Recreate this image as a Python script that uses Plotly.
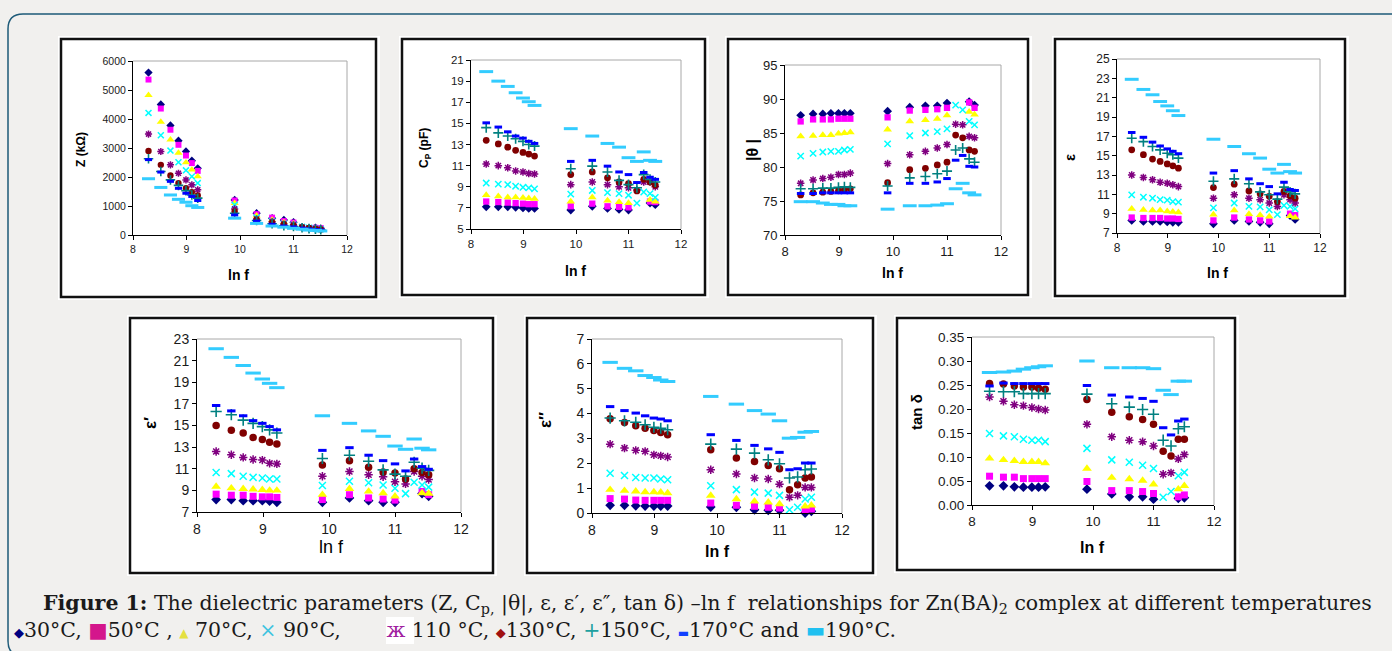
import plotly.graph_objects as go

W, H = 1392, 651

# ---------------- data ----------------
lnf = [8.29, 8.52, 8.70, 8.85, 8.99, 9.10, 9.21, 9.90, 10.31, 10.60, 10.82, 11.00, 11.16, 11.29, 11.41, 11.51]
temps = ["30°C", "50°C", "70°C", "90°C", "110°C", "130°C", "150°C", "170°C", "190°C"]

Z_kohm = [
    [5600, 4500, 3780, 3250, 2880, 2560, 2300, 1210, 750, 580, 520, 440, None, None, 250, 230],
    [5360, 4360, 3630, 3110, 2740, 2480, 2210, 1190, 720, 600, 480, 430, None, None, 250, 240],
    [4820, 3900, 3290, 2830, 2500, 2250, 2020, 1100, 670, 520, 440, 390, None, None, 230, 210],
    [4210, 3440, 2910, 2510, 2230, 2020, 1790, 1040, 600, 470, 390, 350, 280, 250, 220, 200],
    [3480, 2880, 2420, 2130, 1900, 1730, 1560, 900, 550, 460, 380, 350, 270, 240, 220, 200],
    [2900, 2420, 2050, 1790, 1610, 1480, 1360, 810, 530, 430, 370, 320, 270, 240, 210, 190],
    [2630, 2190, 1900, 1710, 1530, 1380, 1270, 750, 500, 390, 320, 290, 250, 220, 200, 180],
    [2600, 2170, 1850, 1610, 1440, 1330, 1190, 690, 480, 370, 310, 280, 240, 210, 190, 170],
    [1940, 1640, 1380, 1230, 1130, 1010, 950, 580, 400, 310, 270, 230, 200, 170, 160, 140],
]
Cp_pF = [
    [7.1, 7.1, 7.1, 7.05, 7.0, 6.95, 6.95, 6.8, 7.15, 6.95, 6.85, 6.8, None, None, 7.45, 7.3],
    [7.6, 7.55, 7.5, 7.45, 7.4, 7.35, 7.35, 7.15, 7.4, 7.15, 7.1, 7.05, None, None, 7.6, 7.55],
    [8.2, 8.1, 8.0, 8.0, 7.95, 7.9, 7.85, 7.6, 8.0, 7.7, 7.55, 7.45, None, None, 7.75, 7.6],
    [9.35, 9.25, 9.2, 9.05, 8.95, 8.9, 8.8, 8.3, 8.65, 8.45, 8.35, 8.2, 7.45, 8.5, 8.35, 8.0],
    [11.15, 11.0, 10.8, 10.5, 10.4, 10.25, 10.2, 9.2, 9.45, 9.2, 9.0, 8.9, 8.7, 9.45, 9.45, 9.0],
    [13.4, 13.05, 12.75, 12.45, 12.25, 12.1, 11.9, 10.15, 10.4, 9.85, 9.45, 9.3, 8.6, 9.7, 9.45, 9.15],
    [14.6, 14.1, 13.8, 13.55, 13.3, 13.0, 12.85, 10.7, 10.95, 10.4, 9.6, 9.2, 8.9, 10.15, 9.7, 9.45],
    [15.05, 14.65, 14.2, 13.8, 13.6, 13.3, 13.1, 11.4, 11.5, 10.95, 10.4, 10.15, 9.4, 10.35, 9.9, 9.7],
    [19.9, 19.0, 18.5, 17.9, 17.4, 17.05, 16.7, 14.5, 13.8, 13.1, 12.75, 11.75, 11.4, 12.3, 11.5, 11.4],
]
theta_deg = [
    [87.6, 87.8, 87.8, 87.9, 87.9, 87.9, 87.9, 88.2, 88.8, 89.0, 89.0, 89.4, None, None, 89.6, 89.1],
    [86.7, 87.0, 87.0, 87.0, 87.1, 87.1, 87.1, 87.3, 88.3, 88.4, 88.5, 88.7, None, None, 89.5, 88.7],
    [84.5, 84.6, 84.7, 84.7, 84.9, 85.0, 85.1, 85.5, 86.7, 86.9, 87.1, 87.6, None, None, 88.1, 87.7],
    [81.6, 82.0, 82.2, 82.3, 82.3, 82.5, 82.6, 83.4, 84.6, 85.0, 85.2, 85.6, 89.1, 88.4, 86.7, 86.2],
    [77.6, 78.1, 78.3, 78.5, 78.9, 78.9, 79.1, 80.5, 81.8, 82.3, 82.8, 83.3, 86.3, 86.2, 84.5, 84.3],
    [75.9, 76.2, 76.3, 76.4, 76.5, 76.7, 76.8, 77.7, 79.6, 79.8, 80.3, 80.7, 84.7, 84.3, 82.5, 82.3],
    [76.8, 76.8, 76.9, 76.9, 77.0, 77.1, 77.0, 77.2, 78.4, 78.6, 79.0, 79.4, 82.5, 82.8, 81.2, 80.7],
    [76.1, 76.1, 76.2, 76.2, 76.2, 76.2, 76.2, 76.2, 77.6, 77.6, 77.8, 78.3, 81.0, 81.7, 80.1, 80.0],
    [74.9, 74.9, 74.7, 74.5, 74.5, 74.3, 74.3, 73.8, 74.3, 74.3, 74.4, 74.6, 76.8, 77.6, 76.2, 75.9],
]
eps = [
    [8.3, 8.2, 8.2, 8.2, 8.15, 8.1, 8.1, 7.95, 8.3, 8.2, 8.1, 7.95, None, None, 8.8, 8.4],
    [8.6, 8.55, 8.55, 8.55, 8.5, 8.5, 8.45, 8.3, 8.6, 8.4, 8.3, 8.2, None, None, 9.0, 8.85],
    [9.5, 9.4, 9.35, 9.35, 9.25, 9.2, 9.15, 8.9, 9.35, 8.95, 8.85, 8.7, None, None, 8.75, 8.6],
    [10.95, 10.7, 10.6, 10.45, 10.4, 10.25, 10.2, 9.6, 10.1, 9.75, 9.7, 9.4, 8.9, 9.85, 9.75, 9.5],
    [13.0, 12.75, 12.5, 12.25, 12.15, 12.0, 11.8, 10.6, 10.95, 10.6, 10.45, 10.1, 9.75, 10.95, 10.45, 10.1],
    [15.6, 15.1, 14.65, 14.4, 14.15, 13.95, 13.7, 11.7, 12.05, 11.35, 11.05, 10.8, 10.25, 11.3, 10.85, 10.6],
    [16.8, 16.45, 15.95, 15.6, 15.25, 15.1, 14.75, 12.35, 12.6, 12.1, 11.25, 10.95, 10.5, 11.75, 11.25, 11.05],
    [17.4, 16.9, 16.4, 16.0, 15.7, 15.45, 15.2, 13.2, 13.45, 12.6, 12.1, 11.8, 11.05, 12.25, 11.5, 11.4],
    [22.9, 21.85, 21.3, 20.6, 20.15, 19.65, 19.15, 16.7, 15.95, 15.2, 14.75, 13.6, 13.2, 14.1, 13.35, 13.2],
]
eps_real = [
    [8.15, 8.15, 8.05, 8.05, 8.05, 8.0, 7.9, 7.9, 8.3, 8.05, 7.9, 7.9, None, None, 8.7, 8.45],
    [8.65, 8.55, 8.55, 8.45, 8.4, 8.4, 8.35, 8.15, 8.6, 8.3, 8.2, 8.1, None, None, 8.9, 8.6],
    [9.35, 9.2, 9.15, 9.1, 9.05, 9.0, 9.0, 8.6, 9.15, 8.9, 8.75, 8.45, None, None, 8.75, 8.7],
    [10.65, 10.55, 10.3, 10.2, 10.15, 10.05, 10.05, 9.45, 9.85, 9.7, 9.5, 9.2, 8.7, 9.75, 9.5, 9.3],
    [12.6, 12.3, 12.05, 11.85, 11.8, 11.5, 11.45, 10.3, 10.75, 10.45, 10.25, 9.8, 9.6, 10.75, 10.3, 10.0],
    [15.0, 14.55, 14.3, 13.9, 13.7, 13.45, 13.3, 11.35, 11.75, 11.15, 10.7, 10.6, 10.05, 11.0, 10.65, 10.45],
    [16.3, 16.0, 15.5, 15.2, 14.9, 14.6, 14.3, 11.95, 12.25, 11.7, 10.9, 10.5, 10.3, 11.6, 11.05, 10.85],
    [16.85, 16.35, 15.9, 15.45, 15.2, 14.9, 14.6, 12.7, 12.95, 12.25, 11.75, 11.45, 10.8, 11.9, 11.2, 10.95],
    [22.1, 21.3, 20.55, 19.85, 19.3, 18.9, 18.5, 15.9, 15.2, 14.5, 14.0, 13.1, 12.8, 13.75, 12.9, 12.75],
]
eps_imag = [
    [0.31, 0.31, 0.29, 0.28, 0.28, 0.28, 0.28, 0.24, 0.23, 0.13, 0.11, 0.11, None, None, 0.0, 0.07],
    [0.58, 0.56, 0.52, 0.51, 0.51, 0.51, 0.51, 0.40, 0.31, 0.27, 0.23, 0.20, None, None, 0.13, 0.16],
    [0.94, 0.90, 0.87, 0.84, 0.84, 0.83, 0.80, 0.70, 0.56, 0.47, 0.43, 0.36, None, None, 0.27, 0.31],
    [1.60, 1.51, 1.43, 1.41, 1.41, 1.37, 1.34, 1.10, 0.94, 0.84, 0.80, 0.71, 0.13, 0.23, 0.56, 0.63],
    [2.77, 2.61, 2.52, 2.48, 2.34, 2.30, 2.25, 1.74, 1.57, 1.41, 1.37, 1.16, 0.63, 0.71, 1.03, 1.03],
    [3.79, 3.64, 3.51, 3.41, 3.32, 3.24, 3.15, 2.54, 2.21, 2.07, 1.91, 1.78, 0.94, 1.14, 1.41, 1.45],
    [3.82, 3.71, 3.65, 3.55, 3.45, 3.41, 3.35, 2.77, 2.57, 2.41, 2.14, 1.98, 1.41, 1.45, 1.74, 1.77],
    [4.28, 4.12, 4.02, 3.91, 3.82, 3.78, 3.71, 3.15, 2.92, 2.72, 2.58, 2.44, 1.74, 1.78, 2.01, 2.01],
    [6.06, 5.82, 5.72, 5.53, 5.45, 5.35, 5.29, 4.69, 4.38, 4.12, 3.98, 3.71, 3.01, 3.04, 3.25, 3.28],
]
tan_delta = [
    [0.040, 0.040, 0.038, 0.037, 0.037, 0.037, 0.038, 0.033, 0.023, 0.017, 0.017, 0.012, None, None, 0.014, 0.015],
    [0.060, 0.058, 0.058, 0.055, 0.055, 0.055, 0.055, 0.049, 0.030, 0.030, 0.028, 0.024, None, None, 0.017, 0.021],
    [0.097, 0.094, 0.092, 0.090, 0.090, 0.090, 0.087, 0.076, 0.057, 0.054, 0.051, 0.043, None, None, 0.033, 0.040],
    [0.149, 0.144, 0.142, 0.137, 0.135, 0.135, 0.132, 0.118, 0.094, 0.089, 0.083, 0.076, 0.016, 0.028, 0.061, 0.068],
    [0.225, 0.216, 0.209, 0.207, 0.203, 0.200, 0.198, 0.168, 0.142, 0.135, 0.132, 0.123, 0.064, 0.067, 0.096, 0.105],
    [0.253, 0.252, 0.248, 0.246, 0.246, 0.243, 0.241, 0.220, 0.193, 0.184, 0.178, 0.168, 0.112, 0.102, 0.137, 0.137],
    [0.237, 0.236, 0.236, 0.232, 0.232, 0.232, 0.232, 0.231, 0.211, 0.204, 0.199, 0.189, 0.135, 0.123, 0.159, 0.163],
    [0.248, 0.254, 0.253, 0.253, 0.253, 0.253, 0.253, 0.249, 0.229, 0.225, 0.222, 0.216, 0.161, 0.146, 0.175, 0.179],
    [0.276, 0.277, 0.279, 0.283, 0.286, 0.288, 0.290, 0.300, 0.286, 0.286, 0.286, 0.284, 0.239, 0.230, 0.258, 0.258],
]

# ---------------- styles ----------------
styles = [
    dict(symbol="diamond", color="#000080", size=7.5, lw=0),
    dict(symbol="square", color="#FF00FF", size=7, lw=0),
    dict(symbol="triangle-up", color="#FFFF00", size=8.5, lw=0),
    dict(symbol="x-thin-open", color="#00FFFF", size=7, lw=1.5),
    dict(symbol="asterisk-open", color="#800080", size=7, lw=1.5),
    dict(symbol="circle", color="#800000", size=7.5, lw=0),
    dict(symbol="cross-thin-open", color="#008080", size=8, lw=1.6),
    dict(symbol="line-ew-open", color="#0000FF", size=6, lw=3),
    dict(symbol="line-ew-open", color="#33CCFF", size=11, lw=3),
]

FONT = "Liberation Sans, Arial, sans-serif"
BG = "#f1f0ee"

panels = [
    dict(data=Z_kohm, yr=[0, 6000], dt=1000, fmt="d", plot=(133, 61, 347, 235), frame=(61, 39, 376, 297),
         yt="<b>Z (kΩ)</b>", ytp=(81, 150), yts=12, xtp=(238, 275), xts=14, xtb=True, tks=10.5, ms=0.85),
    dict(data=Cp_pF, yr=[5, 21], dt=2, fmt="d", plot=(471, 60, 681, 229), frame=(402, 39, 705, 295),
         yt="<b>C<sub>P</sub> (pF)</b>", ytp=(425, 148), yts=12, xtp=(575, 271), xts=14, xtb=True, tks=11.5, ms=0.9),
    dict(data=theta_deg, yr=[70, 95], dt=5, fmt="d", plot=(785, 65, 1001, 235), frame=(728, 39, 1028, 295),
         yt="<b>|θ |</b>", ytp=(752, 150), yts=16, xtp=(893, 273), xts=14, xtb=True, tks=13, ms=0.9),
    dict(data=eps, yr=[7, 25], dt=2, fmt="d", plot=(1117, 59, 1320, 233), frame=(1055, 39, 1345, 296),
         yt="<b>ε</b>", ytp=(1069, 158), yts=15, xtp=(1217, 273), xts=14, xtb=True, tks=12, ms=0.9),
    dict(data=eps_real, yr=[7, 23], dt=2, fmt="d", plot=(197, 339, 461, 512), frame=(130, 318, 493, 573),
         yt="<b>ε′</b>", ytp=(150, 423), yts=17, xtp=(331, 547), xts=18, xtb=False, tks=14, ms=1.0),
    dict(data=eps_imag, yr=[0, 7], dt=1, fmt="d", plot=(592, 339, 842, 513), frame=(527, 318, 873, 573),
         yt="<b>ε″</b>", ytp=(545, 420), yts=17, xtp=(717, 551), xts=16, xtb=True, tks=14, ms=1.0),
    dict(data=tan_delta, yr=[0, 0.35], dt=0.05, fmt=".2f", plot=(972, 337, 1214, 505), frame=(897, 318, 1235, 570),
         yt="<b>tan δ</b>", ytp=(916, 412), yts=15, xtp=(1092, 547), xts=16, xtb=True, tks=13.5, ms=1.0),
]


def px(x):
    return x / W


def py(y):
    return 1 - y / H


fig = go.Figure()
layout = {}
shapes = []
annotations = []

# outer rounded teal border
r = 15
path = (f"M {px(1400)},{py(14)} L {px(8 + r)},{py(14)} Q {px(8)},{py(14)} {px(8)},{py(14 + r)} "
        f"L {px(8)},{py(656 - r)} Q {px(8)},{py(656)} {px(8 + r)},{py(656)} L {px(1400)},{py(656)}")
shapes.append(dict(type="path", xref="paper", yref="paper", path=path,
                   line=dict(color="#1d5a78", width=1.5), layer="below"))

for i, p in enumerate(panels):
    n = "" if i == 0 else str(i + 1)
    x0, y0, x1, y1 = p["plot"]
    fx0, fy0, fx1, fy1 = p["frame"]
    tickfont = dict(family=FONT, size=p["tks"], color="#1a1a1a")
    common = dict(showgrid=False, zeroline=False, showline=True, automargin=False,
                  linecolor="#000", linewidth=1, ticks="outside", ticklen=4,
                  tickcolor="#000", tickfont=tickfont, fixedrange=True)
    layout["xaxis" + n] = dict(domain=[px(x0), px(x1)], range=[8, 12], dtick=1, tick0=8,
                               anchor="y" + n, **common)
    layout["yaxis" + n] = dict(domain=[py(y1), py(y0)], range=p["yr"], dtick=p["dt"], tick0=p["yr"][0],
                               anchor="x" + n, tickformat=p["fmt"], **common)
    shapes.append(dict(type="rect", xref="paper", yref="paper", x0=px(fx0 - 3), x1=px(fx1 + 4),
                       y0=py(fy1 + 3), y1=py(fy0 - 3), fillcolor="white", line=dict(width=0), layer="below"))
    shapes.append(dict(type="rect", xref="paper", yref="paper", x0=px(fx0), x1=px(fx1),
                       y0=py(fy1), y1=py(fy0), fillcolor="rgba(0,0,0,0)",
                       line=dict(color="#111", width=2.5), layer="above"))
    shapes.append(dict(type="line", xref="paper", yref="paper", x0=px(x0), x1=px(x1),
                       y0=py(y0), y1=py(y0), line=dict(color="#a8a8a8", width=1), layer="above"))
    shapes.append(dict(type="line", xref="paper", yref="paper", x0=px(x1), x1=px(x1),
                       y0=py(y0), y1=py(y1), line=dict(color="#a8a8a8", width=1), layer="above"))
    annotations.append(dict(text=p["yt"], xref="paper", yref="paper", x=px(p["ytp"][0]), y=py(p["ytp"][1]),
                            textangle=-90, showarrow=False, xanchor="center", yanchor="middle",
                            font=dict(family=FONT, size=p["yts"], color="#000")))
    xt = "<b>ln f</b>" if p["xtb"] else "ln f"
    annotations.append(dict(text=xt, xref="paper", yref="paper", x=px(p["xtp"][0]), y=py(p["xtp"][1]),
                            showarrow=False, xanchor="center", yanchor="middle",
                            font=dict(family=FONT, size=p["xts"], color="#000")))
    for k, (t, st) in enumerate(zip(temps, styles)):
        fig.add_trace(go.Scatter(
            x=lnf, y=p["data"][k], mode="markers", name=t, showlegend=False,
            xaxis="x" + n, yaxis="y" + n, cliponaxis=False,
            marker=dict(symbol=st["symbol"], color=st["color"], size=st["size"] * p["ms"],
                        line=dict(color=st["color"], width=st["lw"])),
        ))

# small white box behind the 110 °C symbol in the caption
shapes.append(dict(type="rect", xref="paper", yref="paper", x0=px(386), x1=px(414),
                   y0=py(644), y1=py(617), fillcolor="white", line=dict(width=0), layer="below"))

# caption
SERIF = "DejaVu Serif, Liberation Serif, serif"
cap1 = ("<b>Figure 1:</b> The dielectric parameters (Z, C<sub>p,</sub> |θ|, ε, ε′, ε″, tan δ) –ln f  "
        "relationships for Zn(BA)<sub>2</sub> complex at different temperatures")
cap2 = ('<span style="color:#000080;font-size:13px">◆</span>30°C, '
        '<span style="color:#d4168c">■</span>50°C , '
        '<span style="color:#e4e040;font-size:12px">▲</span> 70°C, '
        '<span style="color:#40c4e0">×</span> 90°C,&nbsp;&nbsp;&nbsp;&nbsp;&nbsp;&nbsp; '
        '<span style="color:#a020a0">ж</span> 110 °C, '
        '<span style="color:#a01010;font-size:13px">◆</span>130°C, '
        '<span style="color:#20a0a0">+</span>150°C, '
        '<span style="color:#1040ff;font-size:12px">▬</span>170°C and '
        '<span style="color:#20c0f0">▬</span>190°C.')
annotations.append(dict(text=cap1, xref="paper", yref="paper", x=px(41), y=py(604), showarrow=False,
                        xanchor="left", yanchor="middle", font=dict(family=SERIF, size=20.5, color="#1a1a1a")))
annotations.append(dict(text=cap2, xref="paper", yref="paper", x=px(12), y=py(630), showarrow=False,
                        xanchor="left", yanchor="middle", font=dict(family=SERIF, size=20.5, color="#1a1a1a")))

fig.update_layout(
    width=W, height=H, margin=dict(l=0, r=0, t=0, b=0, pad=0, autoexpand=False), autosize=False,
    paper_bgcolor=BG, plot_bgcolor="white", showlegend=False,
    shapes=shapes, annotations=annotations, **layout,
)

fig.write_html("out.html", include_plotlyjs=True,
               config={"displayModeBar": False, "responsive": False},
               post_script=("document.body.style.margin='0';document.body.style.padding='0';"
                            "document.body.style.overflow='hidden';"
                            "document.body.style.background='" + BG + "';"))
